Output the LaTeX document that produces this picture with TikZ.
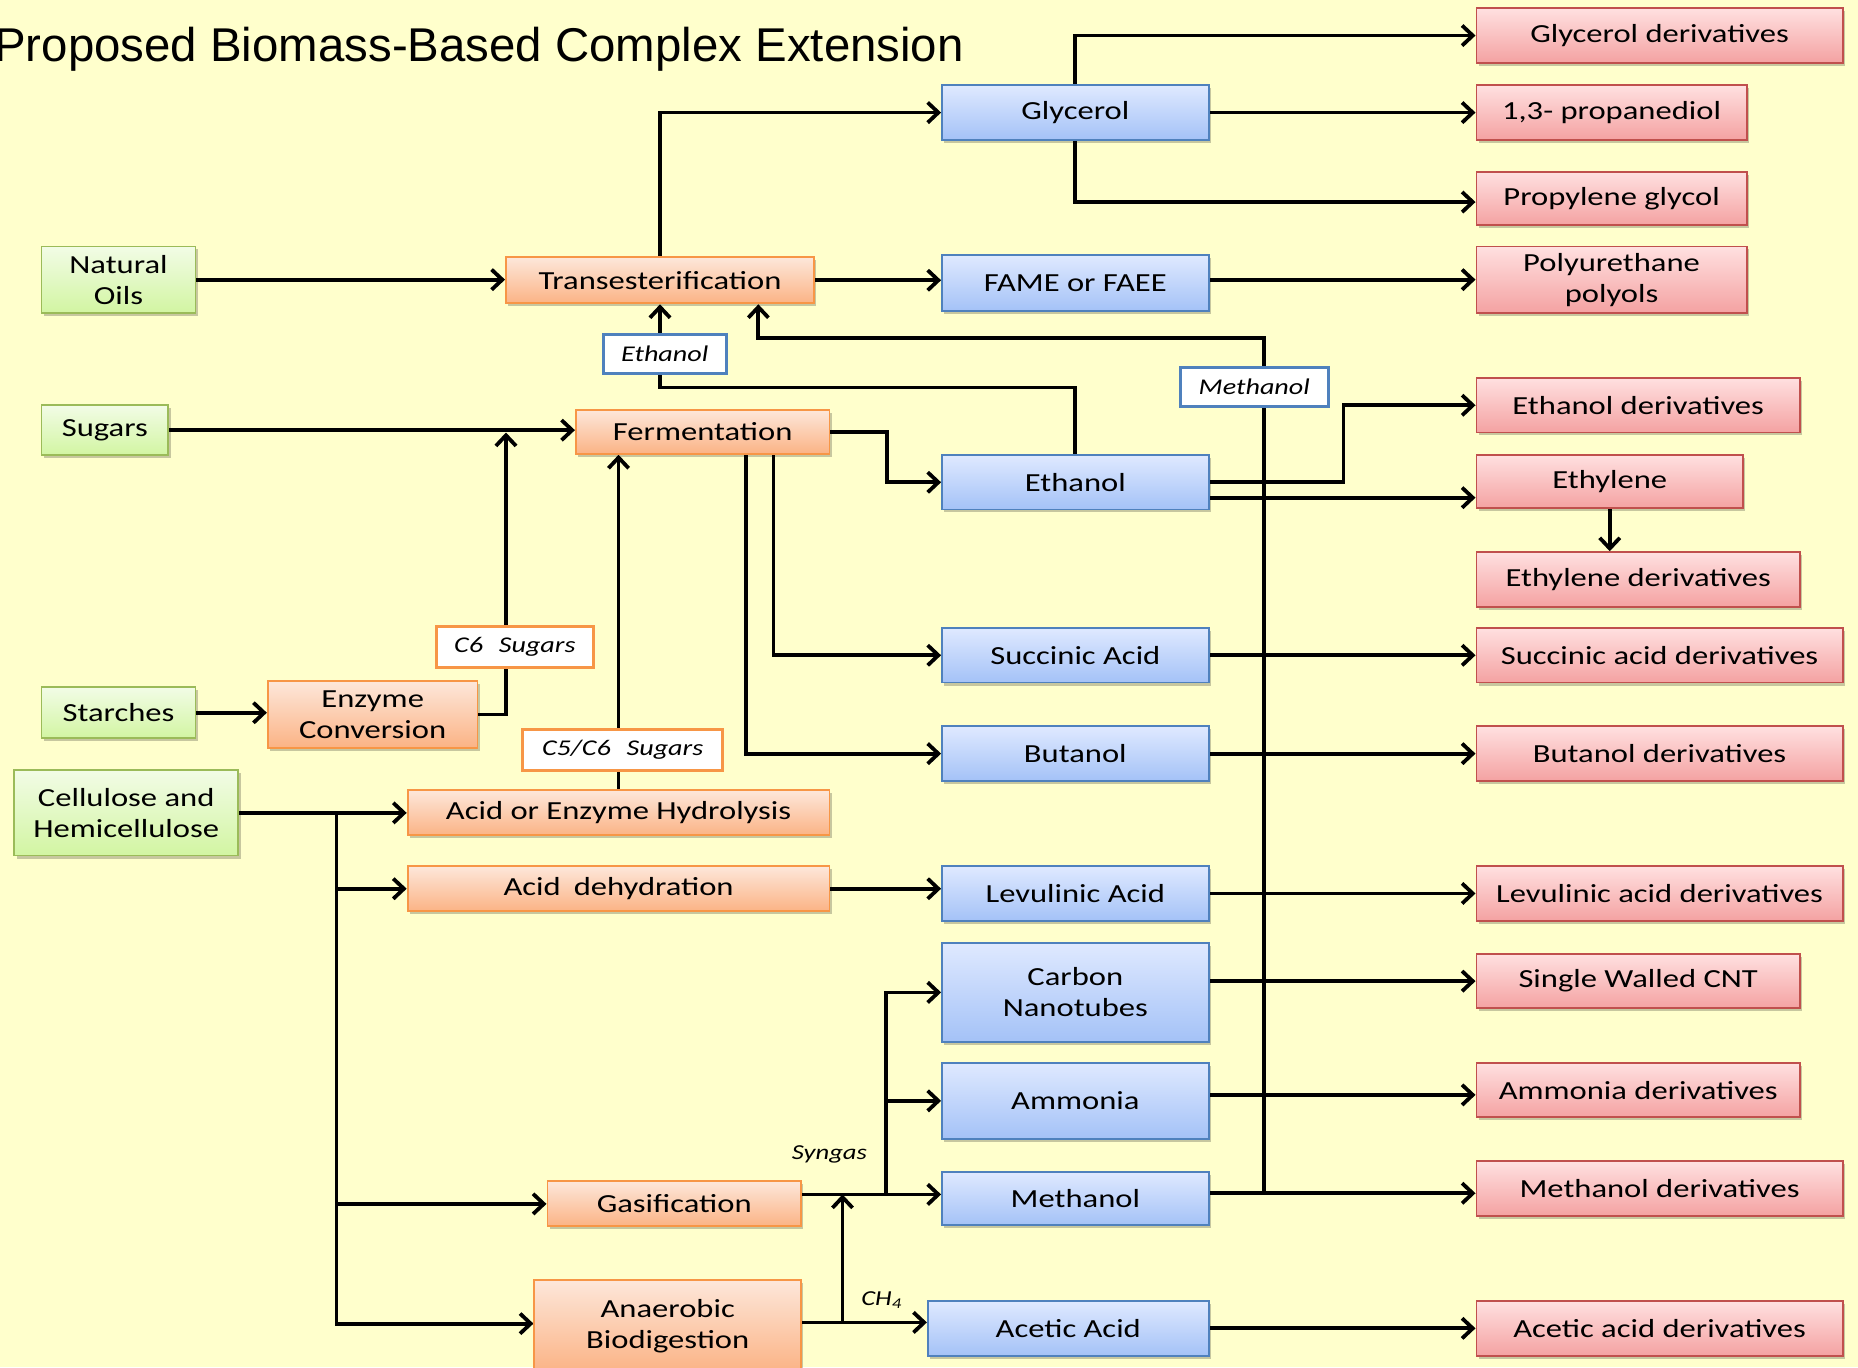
\documentclass[tikz,border=0pt]{standalone}
\usepackage{fontspec}
\setmainfont{Carlito}[FakeStretch=1.25]
\newfontfamily\titlefont{Liberation Sans}
\usetikzlibrary{arrows.meta,shadows,calc}
\pgfdeclarelayer{bg}
\pgfdeclarelayer{links}
\pgfsetlayers{bg,links,main}

\definecolor{paper}{HTML}{FFFFCC}
\definecolor{grnT}{HTML}{F2FCE6}\definecolor{grnB}{HTML}{D2F5A2}\definecolor{grnE}{HTML}{9BBB59}
\definecolor{orgT}{HTML}{FDE7DA}\definecolor{orgB}{HTML}{FBB385}\definecolor{orgE}{HTML}{F79646}
\definecolor{bluT}{HTML}{DFE9FF}\definecolor{bluB}{HTML}{A4C2F7}\definecolor{bluE}{HTML}{4F81BD}
\definecolor{redT}{HTML}{FFE0E0}\definecolor{redB}{HTML}{F4A2A2}\definecolor{redE}{HTML}{C0504D}

\tikzset{
  box/.style={rectangle, inner sep=0pt, line width=1.6pt, align=center,
    font=\fontsize{22}{26}\selectfont,
    drop shadow={shadow xshift=2pt, shadow yshift=-2.5pt, opacity=0.22, fill=black}},
  sz/.style 2 args={minimum width=#1pt, minimum height=#2pt},
  feed/.style={box, draw=grnE, top color=grnT, bottom color=grnB},
  proc/.style={box, draw=orgE, top color=orgT, bottom color=orgB},
  prod/.style={box, draw=bluE, top color=bluT, bottom color=bluB},
  deriv/.style={box, draw=redE, top color=redT, bottom color=redB},
  tag/.style={rectangle, fill=white, inner sep=0pt, line width=2.6pt,
    font=\fontsize{19}{22}\selectfont\itshape},
  tagB/.style={tag, draw=bluE},
  tagO/.style={tag, draw=orgE},
  note/.style={inner sep=0pt, font=\fontsize{18}{22}\selectfont\itshape},
  link/.style={line width=3.2pt, line join=miter, -{Straight Barb[length=9pt,width=17pt]}},
}

\begin{document}
\begin{tikzpicture}[x=1pt, y=-1pt]
\begin{pgfonlayer}{bg}
  \fill[paper] (0,0) rectangle (1568,1154);
\end{pgfonlayer}
\useasboundingbox (0,0) rectangle (1568,1154);

% heading
\node[anchor=base west, inner sep=0pt, font=\titlefont\fontsize{40}{48}\selectfont] (title)
  at (-5,52) {Proposed Biomass-Based Complex Extension};

% feedstocks
\node[feed, sz={130}{56}] (oils)   at (100,236)   {Natural\\Oils};
\node[feed, sz={107}{42}] (sugars) at (88.5,363)  {Sugars};
\node[feed, sz={130}{43}] (starch) at (100,601.5) {Starches};
\node[feed, sz={189}{72}] (cell)   at (106.5,686) {Cellulose and\\Hemicellulose};

% conversion processes
\node[proc, sz={260}{39}] (trans) at (557,236.5) {Transesterification};
\node[proc, sz={214}{37}] (ferm)  at (593,364.5) {Fermentation};
\node[proc, sz={177}{56}] (enz)   at (314.5,603) {Enzyme\\Conversion};
\node[proc, sz={356}{38}] (hydro) at (522,686)   {Acid or Enzyme Hydrolysis};
\node[proc, sz={356}{38}] (dehyd) at (522,750)   {Acid\hspace{0.5em}dehydration};
\node[proc, sz={214}{38}] (gasif) at (569,1016)  {Gasification};
\node[proc, sz={225}{78}] (anaer) at (563.5,1119) {Anaerobic\\Biodigestion};

% platform products
\node[prod, sz={225}{46}] (glyc) at (907.5,95)    {Glycerol};
\node[prod, sz={225}{47}] (fame) at (907.5,239)   {FAME or FAEE};
\node[prod, sz={225}{46}] (eth)  at (907.5,407)   {Ethanol};
\node[prod, sz={225}{46}] (succ) at (907.5,553)   {Succinic Acid};
\node[prod, sz={225}{46}] (but)  at (907.5,636)   {Butanol};
\node[prod, sz={225}{46}] (lev)  at (907.5,754)   {Levulinic Acid};
\node[prod, sz={225}{83}] (cnt)  at (907.5,837.5) {Carbon\\Nanotubes};
\node[prod, sz={225}{64}] (amm)  at (907.5,929)   {Ammonia};
\node[prod, sz={225}{45}] (meth) at (907.5,1011.5) {Methanol};
\node[prod, sz={237}{46}] (acet) at (901.5,1121)  {Acetic Acid};

% derivatives
\node[deriv, sz={309}{46}] (gd)    at (1400.5,30)   {Glycerol derivatives};
\node[deriv, sz={228}{46}] (pdo)   at (1360,95)     {1,3- propanediol};
\node[deriv, sz={228}{45}] (pg)    at (1360,167.5)  {Propylene glycol};
\node[deriv, sz={228}{56}] (pu)    at (1360,236)    {Polyurethane\\polyols};
\node[deriv, sz={273}{46}] (ed)    at (1382.5,342)  {Ethanol derivatives};
\node[deriv, sz={225}{45}] (ethy)  at (1358.5,406.5) {Ethylene};
\node[deriv, sz={273}{46}] (ethyd) at (1382.5,489)  {Ethylene derivatives};
\node[deriv, sz={309}{46}] (sd)    at (1400.5,553)  {Succinic acid derivatives};
\node[deriv, sz={309}{46}] (bd)    at (1400.5,636)  {Butanol derivatives};
\node[deriv, sz={309}{46}] (ld)    at (1400.5,754)  {Levulinic acid derivatives};
\node[deriv, sz={273}{46}] (cntd)  at (1382.5,828)  {Single Walled CNT};
\node[deriv, sz={273}{46}] (ad)    at (1382.5,920)  {Ammonia derivatives};
\node[deriv, sz={309}{46}] (md)    at (1400.5,1003) {Methanol derivatives};
\node[deriv, sz={309}{46}] (acd)   at (1400.5,1121) {Acetic acid derivatives};

% stream tags sitting on the recycle and sugar lines
\node[tagB, sz={104}{33}] (tEth)  at (561,298.5)  {Ethanol};
\node[tagB, sz={125}{33}] (tMeth) at (1058.5,326.5) {Methanol};
\node[tagO, sz={133}{34}] (tC6)   at (434.5,546)  {C6\hspace{0.7em}Sugars};
\node[tagO, sz={169}{34}] (tC56)  at (525.5,633)  {C5/C6\hspace{0.7em}Sugars};
\node[note] (syn) at (700,974)  {Syngas};
\node[note] (ch4) at (744,1097) {CH\textsubscript{4}};

% junction points
\coordinate (c6in)  at (427,365);
\coordinate (ethup) at (557,327);
\coordinate (mj)    at (1067,1007);
\coordinate (mtop)  at (640,285);
\coordinate (cj)    at (284,686);
\coordinate (sj)    at (748,1008);
\coordinate (bj)    at (711,1116);

\begin{pgfonlayer}{links}
  % oils route
  \draw[link] (oils.east) -- (oils.east -| trans.west);
  \draw[link] (trans.north) |- (glyc.west);
  \draw[link] (trans.east) -- (trans.east -| fame.west);
  \draw[link] (glyc.north) |- (gd.west);
  \draw[link] (glyc.east) -- (pdo.west);
  \draw[link] (glyc.south) |- ([yshift=-3pt]pg.west);
  \draw[link] (fame.east |- pu.west) -- (pu.west);
  % alcohol recycles into transesterification
  \draw[link] (eth.north) |- (ethup) -- (trans.south);
  \draw[link] (mj) |- (mtop) -- (mtop |- trans.south);
  % sugars route
  \draw[link] (sugars.east) -- (sugars.east -| ferm.west);
  \draw[link] (starch.east) -- (starch.east -| enz.west);
  \draw[link] (enz.east) -| (c6in);
  \draw[link] (hydro.north) -- (hydro.north |- ferm.south);
  \draw[link] (ferm.east) -- ++(48,0) |- (eth.west);
  \draw[link] ([xshift=-48pt]ferm.south east) |- (succ.west);
  \draw[link] ([xshift=-71pt]ferm.south east) |- (but.west);
  % ethanol products
  \draw[link] (eth.east) -- ++(113,0) |- (ed.west);
  \draw[link] ([yshift=-13pt]eth.east) -- ([yshift=-13pt]eth.east -| ethy.west);
  \draw[link] (ethy.south) -- (ethy.south |- ethyd.north);
  \draw[link] (succ.east) -- (sd.west);
  \draw[link] (but.east) -- (bd.west);
  % lignocellulose route
  \draw[link] (cell.east) -- (hydro.west);
  \draw[link] (cj) |- (dehyd.west);
  \draw[link] (cj) |- (gasif.west);
  \draw[link] (cj) |- ([yshift=2pt]anaer.west);
  \draw[link] (dehyd.east) -- (dehyd.east -| lev.west);
  \draw[link] (lev.east |- ld.west) -- (ld.west);
  % syngas and biogas
  \draw[link] ([yshift=8pt]gasif.east) -- (sj -| meth.west);
  \draw[link] (sj) |- (cnt.west);
  \draw[link] (sj) |- (amm.west);
  \draw[link] ([yshift=3pt]anaer.east) -- (bj -| acet.west);
  \draw[link] (bj) -- (bj |- sj);
  \draw[link] (cnt.east |- cntd.west) -- (cntd.west);
  \draw[link] ([yshift=5pt]amm.east) -- ([yshift=5pt]amm.east -| ad.west);
  \draw[link] (meth.east |- mj) -- (mj -| md.west);
  \draw[link] (acet.east) -- (acd.west);
\end{pgfonlayer}
\end{tikzpicture}
\end{document}
